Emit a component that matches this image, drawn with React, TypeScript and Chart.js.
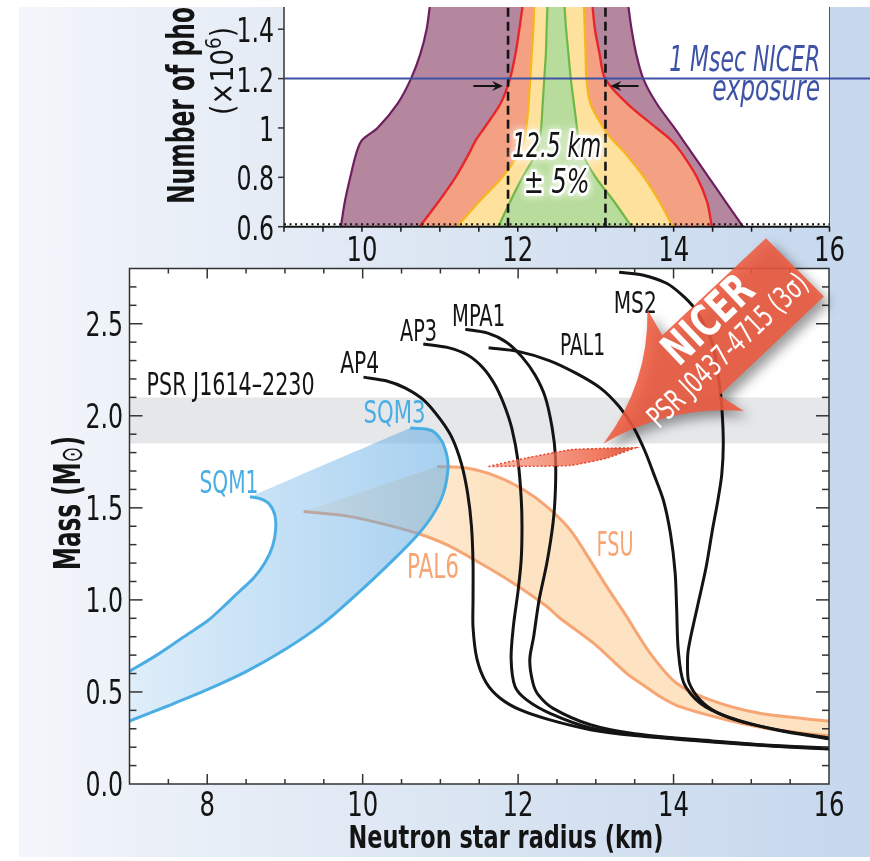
import React, { useEffect, useRef } from 'react';
import { Chart, registerables } from 'chart.js';

Chart.register(...registerables);

/* ================= DATA: top panel (photons needed vs radius) ================= */
const photonCounts = [0.6, 0.7, 0.8, 0.9, 0.95, 1.0, 1.1, 1.2, 1.3, 1.4, 1.49];
const purpleLeft = [9.73, 9.78, 9.85, 9.93, 10.0, 10.2, 10.46, 10.63, 10.75, 10.83, 10.87];
const purpleRight = [14.89, 14.67, 14.45, 14.23, 14.12, 14.01, 13.78, 13.61, 13.52, 13.46, 13.42];
const redLeft = [10.74, 10.98, 11.2, 11.38, 11.46, 11.57, 11.78, 11.9, 11.97, 12.02, 12.06];
const redRight = [14.49, 14.43, 14.3, 14.1, 13.97, 13.78, 13.4, 13.12, 13.05, 12.99, 12.96];
const yellowLeft = [11.22, 11.5, 11.8, 12.02, 12.08, 12.11, 12.14, 12.16, 12.18, 12.2, 12.21];
const yellowRight = [13.99, 13.82, 13.62, 13.37, 13.22, 13.1, 12.93, 12.88, 12.87, 12.86, 12.85];
const greenLeft = [11.75, 11.9, 12.06, 12.24, 12.28, 12.3, 12.32, 12.34, 12.36, 12.37, 12.38];
const greenRight = [13.46, 13.24, 13.0, 12.82, 12.78, 12.76, 12.72, 12.68, 12.65, 12.62, 12.6];
const topRadiusRange = [9, 16];
const photonRange = [0.6, 1.49];
const topRadiusTicks = [10, 12, 14, 16];
const photonTicks = [0.6, 0.8, 1, 1.2, 1.4];
const targetRadius = [11.875, 13.125]; // 12.5 km +/- 5%
const exposurePhotons = 1.2;
const exposureArrowTails = [11.43, 13.55];
const exposureArrowLevel = 1.17;

/* ================= DATA: bottom panel (mass-radius) ================= */
const radiusRange = [7, 16];
const massRange = [0, 2.8];
const radiusTicks = [8, 10, 12, 14, 16];
const massTicks = [0, 0.5, 1, 1.5, 2, 2.5];
const psrMass = [1.85, 2.1];

const ap4Radius = [10.01, 10.3, 10.55, 10.8, 11.0, 11.15, 11.27, 11.35, 11.4, 11.42, 11.42, 11.42, 11.47, 11.59, 11.77, 12.03, 12.41, 12.93, 13.5, 14.5, 15.3, 16.0];
const ap4Mass = [2.21, 2.19, 2.15, 2.08, 1.98, 1.88, 1.74, 1.58, 1.4, 1.2, 1.0, 0.85, 0.68, 0.55, 0.466, 0.402, 0.348, 0.295, 0.263, 0.228, 0.205, 0.19];
const ap3Radius = [10.78, 11.1, 11.35, 11.55, 11.7, 11.82, 11.92, 12.0, 12.04, 12.05, 12.04, 12.0, 11.94, 11.91, 11.96, 12.11, 12.41, 12.93, 13.5, 14.5, 15.3, 16.0];
const ap3Mass = [2.39, 2.37, 2.33, 2.26, 2.17, 2.06, 1.93, 1.75, 1.55, 1.4, 1.22, 1.05, 0.86, 0.68, 0.53, 0.457, 0.384, 0.305, 0.268, 0.231, 0.207, 0.192];
const mpa1Radius = [11.32, 11.6, 11.85, 12.05, 12.22, 12.35, 12.44, 12.48, 12.48, 12.45, 12.37, 12.27, 12.2, 12.15, 12.19, 12.26, 12.45, 12.93, 13.5, 14.5, 15.3, 16.0];
const mpa1Mass = [2.47, 2.45, 2.4, 2.32, 2.22, 2.1, 1.93, 1.78, 1.6, 1.42, 1.2, 1.0, 0.8, 0.674, 0.55, 0.484, 0.411, 0.322, 0.273, 0.234, 0.209, 0.195];
const pal1Radius = [11.62, 12.0, 12.4, 12.75, 13.06, 13.3, 13.48, 13.63, 13.74, 13.87, 13.96, 14.02, 14.04, 14.06, 14.13, 14.34, 14.69, 15.33, 16.0];
const pal1Mass = [2.37, 2.35, 2.3, 2.23, 2.15, 2.05, 1.94, 1.81, 1.69, 1.54, 1.36, 1.15, 0.95, 0.73, 0.55, 0.44, 0.366, 0.293, 0.245];
const ms2Radius = [13.3, 13.6, 13.91, 14.1, 14.26, 14.4, 14.51, 14.58, 14.62, 14.64, 14.62, 14.57, 14.5, 14.42, 14.3, 14.19, 14.18, 14.2, 14.34, 14.55, 14.9, 15.4, 16.0];
const ms2Mass = [2.78, 2.765, 2.72, 2.66, 2.59, 2.49, 2.38, 2.2, 2.05, 1.85, 1.68, 1.54, 1.38, 1.18, 0.95, 0.73, 0.62, 0.55, 0.457, 0.39, 0.335, 0.29, 0.25];
const sqm1Radius = [8.55, 8.68, 8.8, 8.87, 8.88, 8.84, 8.74, 8.6, 8.4, 8.2, 8.0, 7.7, 7.35, 7.0];
const sqm1Mass = [1.56, 1.55, 1.52, 1.46, 1.38, 1.29, 1.2, 1.12, 1.04, 0.96, 0.885, 0.8, 0.7, 0.612];
const sqm3Radius = [10.61, 10.78, 10.91, 11.02, 11.08, 11.1, 11.04, 10.9, 10.7, 10.4, 10.0, 9.5, 9.0, 8.5, 8.0, 7.5, 7.0];
const sqm3Mass = [1.933, 1.93, 1.915, 1.86, 1.79, 1.72, 1.58, 1.46, 1.35, 1.22, 1.06, 0.875, 0.73, 0.61, 0.512, 0.425, 0.342];
const pal6Radius = [9.24, 9.8, 10.22, 10.7, 11.08, 11.51, 11.94, 12.37, 12.54, 12.97, 13.4, 13.61, 13.83, 14.08, 14.69, 15.33, 16.0];
const pal6Mass = [1.48, 1.455, 1.417, 1.362, 1.3, 1.2, 1.09, 0.964, 0.9, 0.765, 0.6, 0.538, 0.474, 0.42, 0.348, 0.293, 0.262];
const fsuRadius = [10.96, 11.34, 11.73, 12.07, 12.37, 12.67, 12.95, 13.14, 13.38, 13.7, 14.04, 14.47, 15.11, 16.0];
const fsuMass = [1.725, 1.716, 1.67, 1.598, 1.507, 1.38, 1.2, 1.072, 0.92, 0.71, 0.547, 0.457, 0.384, 0.342];
const nicerUpperRadius = [11.62, 12.1, 12.67, 13.1, 13.51];
const nicerUpperMass = [1.725, 1.77, 1.815, 1.823, 1.826];
const nicerLowerRadius = [11.62, 12.2, 12.67, 13.14, 13.51];
const nicerLowerMass = [1.725, 1.726, 1.73, 1.77, 1.826];
const nicerArrowTip = [13.1, 1.85];

/* ================= label anchors (data coordinates) + type sizes ================= */
const massLabels = [
  { text: 'PSR J1614\u20132230', r: 7.22, m: 2.114, kind: 'black', size: 32, w: 168 },
  { text: 'AP4', r: 9.71, m: 2.232, kind: 'black', size: 30, w: 39 },
  { text: 'AP3', r: 10.48, m: 2.404, kind: 'black', size: 30, w: 37 },
  { text: 'MPA1', r: 11.15, m: 2.485, kind: 'black', size: 30, w: 53 },
  { text: 'PAL1', r: 12.54, m: 2.332, kind: 'black', size: 30, w: 45 },
  { text: 'MS2', r: 13.23, m: 2.558, kind: 'black', size: 30, w: 43 },
  { text: 'SQM3', r: 10.01, m: 1.96, kind: 'blue', size: 32, w: 62 },
  { text: 'SQM1', r: 7.9, m: 1.58, kind: 'blue', size: 32, w: 59 },
  { text: 'PAL6', r: 10.57, m: 1.118, kind: 'orange', size: 33, w: 52 },
  { text: 'FSU', r: 13.01, m: 1.239, kind: 'orange', size: 33, w: 37 },
];

/* ================= styles ================= */
const BLACK = '#141414';
const BLUE = '#4aaee4';
const ORANGE = '#f6a574';
const NAVY = '#3e53a6';
const KIND_COLOR: Record<string, string> = { black: BLACK, blue: BLUE, orange: ORANGE };

let FONT = "'Liberation Sans Narrow', sans-serif";
let NARROW = 1;

function detectFont() {
  const c = document.createElement('canvas').getContext('2d')!;
  const s = '0123456789 Number of photons';
  const w = (f: string) => { c.font = `40px ${f}`; return c.measureText(s).width; };
  const mono = w('monospace');
  const serif = w('serif');
  for (const f of ['Liberation Sans Narrow', 'Arial Narrow', 'DejaVu Sans Condensed', 'Liberation Sans']) {
    if (Math.abs(w(`'${f}', monospace`) - mono) > 0.5 || Math.abs(w(`'${f}', serif`) - serif) > 0.5) {
      c.font = `100px '${f}'`;
      const dw = c.measureText('0123456789').width;
      FONT = `'${f}', 'DejaVu Sans', sans-serif`;
      NARROW = Math.min(1, 456 / dw);
      return;
    }
  }
}

const fnt = (size: number, weight = 'normal', style = 'normal') => `${style} ${weight} ${size}px ${FONT}`;

type TOpt = { size: number; color: string; weight?: string; style?: string; align?: CanvasTextAlign; baseline?: CanvasTextBaseline; rot?: number; w?: number; halo?: boolean };
function drawText(ctx: CanvasRenderingContext2D, s: string, x: number, y: number, o: TOpt) {
  ctx.save();
  ctx.translate(x, y);
  if (o.rot) ctx.rotate(o.rot);
  ctx.font = fnt(o.size, o.weight, o.style);
  const natural = ctx.measureText(s).width;
  const sx = o.w ? o.w / natural : NARROW;
  ctx.scale(sx, 1);
  ctx.textAlign = o.align ?? 'left';
  ctx.textBaseline = o.baseline ?? 'alphabetic';
  if (o.halo) {
    ctx.save();
    ctx.shadowColor = 'rgba(255,255,255,1)';
    ctx.shadowBlur = 8;
    ctx.lineJoin = 'round';
    ctx.strokeStyle = 'rgba(255,255,255,0.95)';
    ctx.lineWidth = 6;
    ctx.strokeText(s, 0, 0);
    ctx.restore();
  }
  ctx.fillStyle = o.color;
  ctx.fillText(s, 0, 0);
  ctx.restore();
}

type Seg = { t: string; size: number; weight?: string; dy?: number };
function drawRich(ctx: CanvasRenderingContext2D, segs: Seg[], x: number, y: number, rot: number, color: string, totalW: number) {
  ctx.save();
  ctx.translate(x, y);
  ctx.rotate(rot);
  const widths = segs.map((s) => { ctx.font = fnt(s.size, s.weight); return ctx.measureText(s.t).width; });
  const natural = widths.reduce((a, b) => a + b, 0);
  ctx.scale(totalW / natural, 1);
  let cx = -natural / 2;
  ctx.fillStyle = color;
  ctx.textAlign = 'left';
  ctx.textBaseline = 'alphabetic';
  segs.forEach((s, i) => { ctx.font = fnt(s.size, s.weight); ctx.fillText(s.t, cx, s.dy ?? 0); cx += widths[i]; });
  ctx.restore();
}

/* ================= helpers for datasets ================= */
type Pt = { x: number; y: number };
const pts = (xs: number[], ys: number[]): Pt[] => xs.map((x, i) => ({ x, y: ys[i] }));
const rev = (a: Pt[]) => [...a].reverse();
const closed = (a: Pt[], b: Pt[]): Pt[] => {
  const br = rev(b);
  return [a[0], ...a, a[a.length - 1], br[0], ...br, br[br.length - 1]];
};
const lineDs = (data: Pt[], color: string, width = 3) => ({
  data, showLine: true, borderColor: color, borderWidth: width, pointRadius: 0, pointHoverRadius: 0,
  tension: 0.3, fill: false, borderJoinStyle: 'round', borderCapStyle: 'butt',
});
const fillDs = (data: Pt[], bg: any) => ({
  data, showLine: true, borderWidth: 0, borderColor: 'rgba(0,0,0,0)', backgroundColor: bg,
  pointRadius: 0, pointHoverRadius: 0, tension: 0.3, fill: 'shape',
});
const stackOrder = (list: any[]) => list.map((d, i) => ({ ...d, order: list.length - i }));

function hGrad(chart: any, r0: number, r1: number, c0: string, c1: string) {
  const { ctx, chartArea, scales } = chart;
  if (!chartArea || !scales.x) return c1;
  const g = ctx.createLinearGradient(scales.x.getPixelForValue(r0), 0, scales.x.getPixelForValue(r1), 0);
  g.addColorStop(0, c0);
  g.addColorStop(1, c1);
  return g;
}

const whiteArea = {
  id: 'whiteArea',
  beforeDraw(chart: any) {
    const { ctx, chartArea: a } = chart;
    ctx.save();
    ctx.fillStyle = '#ffffff';
    ctx.fillRect(a.left, a.top, a.right - a.left, a.bottom - a.top);
    ctx.restore();
  },
};

function seg(ctx: CanvasRenderingContext2D, x0: number, y0: number, x1: number, y1: number) {
  ctx.beginPath();
  ctx.moveTo(x0, y0);
  ctx.lineTo(x1, y1);
  ctx.stroke();
}

function tickLabels(chart: any, xTicks: number[], yTicks: number[], xFmt: (v: number) => string, yFmt: (v: number) => string, xBase: number, yRight: number, yShift: number) {
  const { ctx, chartArea: a, scales: { x, y } } = chart;
  xTicks.forEach((v) => drawText(ctx, xFmt(v), x.getPixelForValue(v), a.bottom + xBase, { size: 34, color: BLACK, align: 'center' }));
  yTicks.forEach((v) => drawText(ctx, yFmt(v), a.left - yRight, y.getPixelForValue(v) + yShift, { size: 33, color: BLACK, align: 'right' }));
}

/* ================= top panel decorations ================= */
const topDeco = {
  id: 'topDeco',
  afterDatasetsDraw(chart: any) {
    const { ctx, chartArea: a, scales: { x, y } } = chart;
    ctx.save();
    ctx.beginPath();
    ctx.rect(a.left, a.top, a.right - a.left, a.bottom - a.top);
    ctx.clip();
    ctx.strokeStyle = BLACK;
    ctx.lineWidth = 2.6;
    ctx.setLineDash([9, 5]);
    targetRadius.forEach((r) => { const px = x.getPixelForValue(r); seg(ctx, px, a.bottom, px, a.top); });
    ctx.restore();

    const py = y.getPixelForValue(exposurePhotons);
    ctx.save();
    ctx.strokeStyle = NAVY;
    ctx.lineWidth = 2;
    seg(ctx, a.left, py, chart.width, py);
    ctx.restore();

    const ay = y.getPixelForValue(exposureArrowLevel);
    exposureArrowTails.forEach((tail, i) => {
      const x0 = x.getPixelForValue(tail);
      const dir = i === 0 ? 1 : -1;
      const x1 = x.getPixelForValue(targetRadius[i]) - dir * 5;
      ctx.save();
      ctx.strokeStyle = BLACK;
      ctx.fillStyle = BLACK;
      ctx.lineWidth = 2;
      seg(ctx, x0, ay, x1 - dir * 6, ay);
      ctx.beginPath();
      ctx.moveTo(x1, ay);
      ctx.lineTo(x1 - dir * 11, ay - 5);
      ctx.lineTo(x1 - dir * 7, ay);
      ctx.lineTo(x1 - dir * 11, ay + 5);
      ctx.closePath();
      ctx.fill();
      ctx.restore();
    });

    const cx = x.getPixelForValue(12.5);
    drawText(ctx, '12.5 km', cx, y.getPixelForValue(0.883), { size: 33, style: 'italic', color: BLACK, align: 'center', halo: true, w: 89 });
    drawText(ctx, '\u00b1 5%', cx, y.getPixelForValue(0.735), { size: 33, style: 'italic', color: BLACK, align: 'center', halo: true, w: 66 });
    const rx = x.getPixelForValue(15.88);
    drawText(ctx, '1 Msec NICER', rx, y.getPixelForValue(1.232), { size: 35, style: 'italic', color: NAVY, align: 'right', w: 151 });
    drawText(ctx, 'exposure', rx, y.getPixelForValue(1.113), { size: 35, style: 'italic', color: NAVY, align: 'right', w: 108 });

    ctx.save();
    ctx.strokeStyle = '#333';
    ctx.lineWidth = 1.5;
    seg(ctx, a.left, a.top, a.left, a.bottom);
    photonTicks.forEach((v) => { const p = y.getPixelForValue(v); seg(ctx, a.left - 6, p, a.left, p); });
    ctx.strokeStyle = '#555';
    ctx.lineWidth = 1;
    seg(ctx, a.right, a.top, a.right, a.bottom);
    ctx.strokeStyle = BLACK;
    ctx.lineWidth = 2;
    seg(ctx, a.left, a.bottom, a.right, a.bottom);
    for (let r = topRadiusRange[0]; r <= topRadiusRange[1] + 1e-9; r += 0.5) {
      const p = x.getPixelForValue(r);
      ctx.lineWidth = 1.5;
      seg(ctx, p, a.bottom, p, a.bottom + 5);
    }
    ctx.setLineDash([2, 3.5]);
    ctx.lineWidth = 2;
    seg(ctx, a.left, a.bottom - 2.5, a.right, a.bottom - 2.5);
    ctx.restore();
  },
  afterDraw(chart: any) {
    const { ctx } = chart;
    tickLabels(chart, topRadiusTicks, photonTicks, (v) => String(v), (v) => String(v), 34, 10, 13);
    drawRich(ctx, [{ t: 'Number of photons', size: 37, weight: 'bold' }], 194, 69.5, -Math.PI / 2, BLACK, 255);
    drawRich(ctx, [
      { t: '(\u00d710', size: 32 },
      { t: '6', size: 22, dy: -12 },
      { t: ')', size: 32 },
    ], 233, 64, -Math.PI / 2, BLACK, 88);
  },
};

/* ================= bottom panel decorations ================= */
function drawNicerArrow(ctx: CanvasRenderingContext2D, tx: number, ty: number) {
  const ang = (43.5 * Math.PI) / 180;
  const ux = Math.cos(ang), uy = -Math.sin(ang);
  const nx = Math.sin(ang), ny = Math.cos(ang);
  const P = (a: number, b: number): [number, number] => [tx + ux * a + nx * b, ty + uy * a + ny * b];
  ctx.save();
  ctx.beginPath();
  ctx.moveTo(...P(0, 0));
  ctx.quadraticCurveTo(...P(74, 18), ...P(124, 73));
  ctx.lineTo(...P(117, 45));
  ctx.lineTo(...P(261, 45));
  ctx.lineTo(...P(259, -37));
  ctx.lineTo(...P(117, -38));
  ctx.lineTo(...P(124, -67));
  ctx.quadraticCurveTo(...P(74, -12), ...P(0, 0));
  ctx.closePath();
  ctx.shadowColor = 'rgba(0,0,0,0.45)';
  ctx.shadowBlur = 12;
  ctx.shadowOffsetX = 6;
  ctx.shadowOffsetY = 6;
  ctx.globalAlpha = 0.88;
  ctx.fillStyle = '#ef5a3f';
  ctx.fill();
  ctx.restore();
  const [n1x, n1y] = P(161, -15);
  drawText(ctx, 'NICER', n1x, n1y, { size: 44, weight: 'bold', color: '#ffffff', align: 'center', baseline: 'middle', rot: -ang, w: 108 });
  const [n2x, n2y] = P(154, 20);
  drawText(ctx, 'PSR J0437-4715 (3\u03c3)', n2x, n2y, { size: 30, color: '#ffffff', align: 'center', baseline: 'middle', rot: -ang, w: 208 });
}

const bottomDeco = {
  id: 'bottomDeco',
  afterDatasetsDraw(chart: any) {
    const { ctx, chartArea: a, scales: { x, y } } = chart;
    ctx.save();
    ctx.strokeStyle = '#333';
    ctx.lineWidth = 1.5;
    ctx.strokeRect(a.left, a.top, a.right - a.left, a.bottom - a.top);
    for (let r = radiusRange[0] + 0.5; r < radiusRange[1] - 1e-9; r += 0.5) {
      const p = x.getPixelForValue(r);
      const len = radiusTicks.includes(r) ? 10 : 5;
      seg(ctx, p, a.bottom, p, a.bottom - len);
      seg(ctx, p, a.top, p, a.top + len);
    }
    for (let k = 1; k < Math.round(massRange[1] * 10); k++) {
      const p = y.getPixelForValue(k / 10);
      const len = k % 5 === 0 ? 13 : 7;
      seg(ctx, a.left, p, a.left + len, p);
      seg(ctx, a.right, p, a.right - len, p);
    }
    ctx.restore();

    massLabels.forEach((l) => {
      drawText(ctx, l.text, x.getPixelForValue(l.r), y.getPixelForValue(l.m), { size: l.size, color: KIND_COLOR[l.kind], w: l.w });
    });

    drawNicerArrow(ctx, x.getPixelForValue(nicerArrowTip[0]), y.getPixelForValue(nicerArrowTip[1]));
  },
  afterDraw(chart: any) {
    const { ctx } = chart;
    tickLabels(chart, radiusTicks, massTicks, (v) => String(v), (v) => v.toFixed(1), 32, 6.5, 12);
    drawRich(ctx, [
      { t: 'Mass (M', size: 37, weight: 'bold' },
      { t: '\u2299', size: 30, dy: 2 },
      { t: ')', size: 37, weight: 'bold' },
    ], 80, 273, -Math.PI / 2, BLACK, 134);
    drawRich(ctx, [{ t: 'Neutron star radius (km)', size: 32, weight: 'bold' }], 506, 618, 0, BLACK, 315);
  },
};

/* ================= chart builders ================= */
function fixBox(width?: number, height?: number) {
  return (s: any) => {
    if (width !== undefined) s.width = width;
    if (height !== undefined) s.height = height;
    s.paddingTop = 0; s.paddingBottom = 0; s.paddingLeft = 0; s.paddingRight = 0;
  };
}

const scaleBase = (min: number, max: number, ticks: number[], fit: (s: any) => void) => ({
  type: 'linear', min, max,
  grid: { display: false }, border: { display: false },
  ticks: { display: false, autoSkip: false },
  afterBuildTicks: (s: any) => { s.ticks = ticks.map((v) => ({ value: v })); },
  afterFit: fit,
});

function topConfig(): any {
  const band = (l: number[], r: number[], fillColor: string, edge: string, w: number) => [
    fillDs(closed(pts(l, photonCounts), pts(r, photonCounts)), fillColor),
    lineDs(pts(l, photonCounts), edge, w),
    lineDs(pts(r, photonCounts), edge, w),
  ];
  const datasets = stackOrder([
    ...band(purpleLeft, purpleRight, '#b4879f', '#6d1f5f', 2.2),
    ...band(redLeft, redRight, '#f4a083', '#e8262a', 2.4),
    ...band(yellowLeft, yellowRight, '#fde19c', '#f8b61c', 2.2),
    ...band(greenLeft, greenRight, '#b8dc9b', '#6fb748', 2.2),
  ]);
  return {
    type: 'scatter',
    data: { datasets },
    options: {
      animation: false, responsive: false, maintainAspectRatio: false, events: [],
      layout: { padding: { left: 0, right: 40.5, top: 0, bottom: 0 } },
      plugins: { legend: { display: false }, tooltip: { enabled: false } },
      scales: {
        x: scaleBase(topRadiusRange[0], topRadiusRange[1], topRadiusTicks, fixBox(undefined, 45.3)),
        y: scaleBase(photonRange[0], photonRange[1], photonTicks, fixBox(284, undefined)),
      },
    },
    plugins: [whiteArea, topDeco],
  };
}

function bottomConfig(): any {
  const sqm1 = pts(sqm1Radius, sqm1Mass);
  const sqm3 = pts(sqm3Radius, sqm3Mass);
  const pal6 = pts(pal6Radius, pal6Mass);
  const fsu = pts(fsuRadius, fsuMass);
  const psrBand = closed(
    [{ x: radiusRange[0], y: psrMass[0] }, { x: radiusRange[1], y: psrMass[0] }],
    [{ x: radiusRange[0], y: psrMass[1] }, { x: radiusRange[1], y: psrMass[1] }],
  );
  const nicer = {
    ...fillDs(closed(pts(nicerUpperRadius, nicerUpperMass), pts(nicerLowerRadius, nicerLowerMass)),
      (c: any) => hGrad(c.chart, 11.6, 13.5, 'rgba(242,130,100,0.55)', 'rgba(236,90,60,0.95)')),
    borderWidth: 1.5, borderColor: '#e8452c', borderDash: [2, 2], tension: 0.15,
  };
  const datasets = stackOrder([
    { ...fillDs(psrBand, '#e6e7e9'), tension: 0 },
    fillDs(closed(pal6, fsu), (c: any) => hGrad(c.chart, 9.2, 11.7, 'rgba(252,215,170,0.25)', 'rgba(252,216,170,0.72)')),
    lineDs(pal6, ORANGE),
    lineDs(fsu, ORANGE),
    fillDs(closed(rev(sqm1), rev(sqm3)), (c: any) => hGrad(c.chart, 7, 11.1, 'rgba(95,170,228,0.2)', 'rgba(95,170,228,0.55)')),
    lineDs(sqm1, BLUE),
    lineDs(sqm3, BLUE),
    lineDs(pts(ap4Radius, ap4Mass), BLACK),
    lineDs(pts(ap3Radius, ap3Mass), BLACK),
    lineDs(pts(mpa1Radius, mpa1Mass), BLACK),
    lineDs(pts(pal1Radius, pal1Mass), BLACK),
    lineDs(pts(ms2Radius, ms2Mass), BLACK),
    nicer,
  ]);
  return {
    type: 'scatter',
    data: { datasets },
    options: {
      animation: false, responsive: false, maintainAspectRatio: false, events: [],
      layout: { padding: { left: 0, right: 41, top: 38.5, bottom: 0 } },
      plugins: { legend: { display: false }, tooltip: { enabled: false } },
      scales: {
        x: scaleBase(radiusRange[0], radiusRange[1], radiusTicks, fixBox(undefined, 77)),
        y: scaleBase(massRange[0], massRange[1], massTicks, fixBox(129.5, undefined)),
      },
    },
    plugins: [whiteArea, bottomDeco],
  };
}

export default function App() {
  const topRef = useRef<HTMLCanvasElement>(null);
  const botRef = useRef<HTMLCanvasElement>(null);
  useEffect(() => {
    detectFont();
    Chart.defaults.font.family = FONT;
    const top = new Chart(topRef.current!, topConfig());
    const bot = new Chart(botRef.current!, bottomConfig());
    return () => { top.destroy(); bot.destroy(); };
  }, []);
  return (
    <div style={{ position: 'absolute', left: 0, top: 0, width: 870, height: 861, background: '#ffffff', overflow: 'hidden' }}>
      <div style={{
        position: 'absolute', left: 19, top: 7, width: 851, height: 850,
        background: 'linear-gradient(to right, #f3f6fb 0%, #e2eaf5 35%, #d3e0f0 70%, #c8d9ee 95%, #c6d8ee 100%)',
      }} />
      <canvas ref={topRef} width={870} height={265} style={{ position: 'absolute', left: 0, top: 7, width: 870, height: 265 }} />
      <canvas ref={botRef} width={870} height={631} style={{ position: 'absolute', left: 0, top: 230, width: 870, height: 631 }} />
    </div>
  );
}
